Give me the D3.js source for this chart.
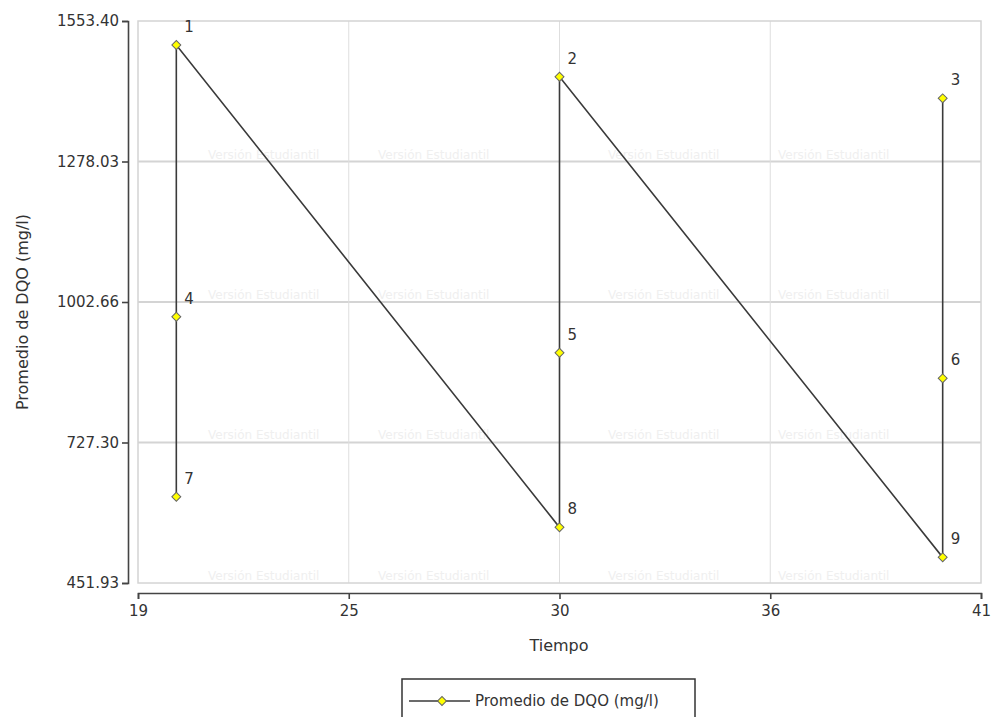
<!DOCTYPE html>
<html>
<head>
<meta charset="utf-8">
<script src="https://cdn.jsdelivr.net/npm/d3@7"></script>
<style>
  body { margin: 0; background: #fff; }
  text { font-family: "DejaVu Sans", Verdana, sans-serif; }
</style>
</head>
<body>
<div id="chart"></div>
<script>
// point labels, tiempo and DQO values
const labels = ["1", "2", "3", "4", "5", "6", "7", "8", "9"];
const tiempo = [20, 30, 40, 20, 30, 40, 20, 30, 40];
const dqo = [1506.3, 1444.2, 1401.8, 973.8, 903.3, 853.1, 621.0, 561.0, 502.2];
// order in which the line joins the points
const lineOrder = ["7", "4", "1", "8", "5", "2", "9", "6", "3"];

const xTickVals = [19, 24.5, 30, 35.5, 41];
const xTickLabels = ["19", "25", "30", "36", "41"];
const yTickVals = [451.93, 727.30, 1002.66, 1278.03, 1553.40];

const data = labels.map((l, i) => ({label: l, x: tiempo[i], y: dqo[i]}));
const lineData = lineOrder.map(l => data.find(d => d.label === l));

const margin = {top: 21, right: 16, bottom: 134, left: 138};
const width = 997 - margin.left - margin.right;
const height = 717 - margin.top - margin.bottom;

const svg = d3.select("#chart").append("svg")
  .attr("width", 997)
  .attr("height", 717);

const g = svg.append("g")
  .attr("transform", `translate(${margin.left}, ${margin.top})`);

const xScale = d3.scaleLinear()
  .domain([xTickVals[0], xTickVals[xTickVals.length - 1]])
  .range([0, width]);

const yScale = d3.scaleLinear()
  .domain([yTickVals[0], yTickVals[yTickVals.length - 1]])
  .range([height, 0]);

// faint watermark rows
const wm = g.append("g").attr("fill", "#efefef").style("font-size", "12px");
yTickVals.slice(0, 4).forEach(v => {
  [70, 240, 470, 640].forEach(px => {
    wm.append("text")
      .attr("x", px)
      .attr("y", yScale(v) - 3)
      .text("Versión Estudiantil");
  });
});

// grid
g.append("g")
  .selectAll("line")
  .data(yTickVals.slice(1, -1))
  .enter().append("line")
  .attr("x1", 0).attr("x2", width)
  .attr("y1", d => yScale(d)).attr("y2", d => yScale(d))
  .attr("stroke", "#d4d4d4")
  .attr("stroke-width", 2);

g.append("g")
  .selectAll("line")
  .data(xTickVals.slice(1, -1))
  .enter().append("line")
  .attr("x1", d => xScale(d)).attr("x2", d => xScale(d))
  .attr("y1", 0).attr("y2", height)
  .attr("stroke", "#dedede")
  .attr("stroke-width", 1);

g.append("rect")
  .attr("x", 0).attr("y", 0)
  .attr("width", width).attr("height", height)
  .attr("fill", "none")
  .attr("stroke", "#d4d4d4")
  .attr("stroke-width", 1.5);

// axes
const yAxis = g.append("g")
  .attr("transform", "translate(-10, 0)")
  .call(d3.axisLeft(yScale).tickValues(yTickVals).tickFormat(d3.format(".2f")).tickSize(6).tickPadding(3));

const xAxis = g.append("g")
  .attr("transform", `translate(0, ${height + 10})`)
  .call(d3.axisBottom(xScale).tickValues(xTickVals).tickFormat((d, i) => xTickLabels[i]).tickSize(6).tickPadding(6));

[yAxis, xAxis].forEach(ax => {
  ax.selectAll("path, line").attr("stroke", "#444").attr("stroke-width", 1.6);
  ax.selectAll("text").attr("fill", "#333").style("font-size", "15px")
    .style("font-family", "'DejaVu Sans', Verdana, sans-serif");
});

// axis titles
svg.append("text")
  .attr("x", 559)
  .attr("y", 651)
  .style("text-anchor", "middle")
  .style("font-size", "16px")
  .attr("fill", "#333")
  .text("Tiempo");

svg.append("text")
  .attr("transform", "rotate(-90)")
  .attr("x", -312)
  .attr("y", 28)
  .style("text-anchor", "middle")
  .style("font-size", "16px")
  .attr("fill", "#333")
  .text("Promedio de DQO (mg/l)");

// line
const line = d3.line()
  .x(d => xScale(d.x))
  .y(d => yScale(d.y));

g.append("path")
  .datum(lineData)
  .attr("d", line)
  .attr("fill", "none")
  .attr("stroke", "#3a3a3a")
  .attr("stroke-width", 1.6);

const diamond = d3.symbol().type(d3.symbolSquare).size(40);

g.selectAll(".pt")
  .data(data)
  .enter().append("path")
  .attr("class", "pt")
  .attr("d", diamond)
  .attr("transform", d => `translate(${xScale(d.x)}, ${yScale(d.y)}) rotate(45)`)
  .attr("fill", "#ffff00")
  .attr("stroke", "#666")
  .attr("stroke-width", 1);

g.selectAll(".lbl")
  .data(data)
  .enter().append("text")
  .attr("class", "lbl")
  .attr("x", d => xScale(d.x) + 8)
  .attr("y", d => yScale(d.y) - 13)
  .style("font-size", "15px")
  .attr("fill", "#333")
  .text(d => d.label);

// legend
const legend = svg.append("g");
legend.append("rect")
  .attr("x", 402).attr("y", 679)
  .attr("width", 293).attr("height", 60)
  .attr("fill", "#fff")
  .attr("stroke", "#333")
  .attr("stroke-width", 1.5);
legend.append("line")
  .attr("x1", 409).attr("x2", 470)
  .attr("y1", 701).attr("y2", 701)
  .attr("stroke", "#3a3a3a")
  .attr("stroke-width", 1.6);
legend.append("path")
  .attr("d", diamond)
  .attr("transform", "translate(442, 701) rotate(45)")
  .attr("fill", "#ffff00")
  .attr("stroke", "#666");
legend.append("text")
  .attr("x", 475)
  .attr("y", 701)
  .attr("dy", "0.35em")
  .style("font-size", "15px")
  .attr("fill", "#333")
  .text("Promedio de DQO (mg/l)");
</script>
</body>
</html>
